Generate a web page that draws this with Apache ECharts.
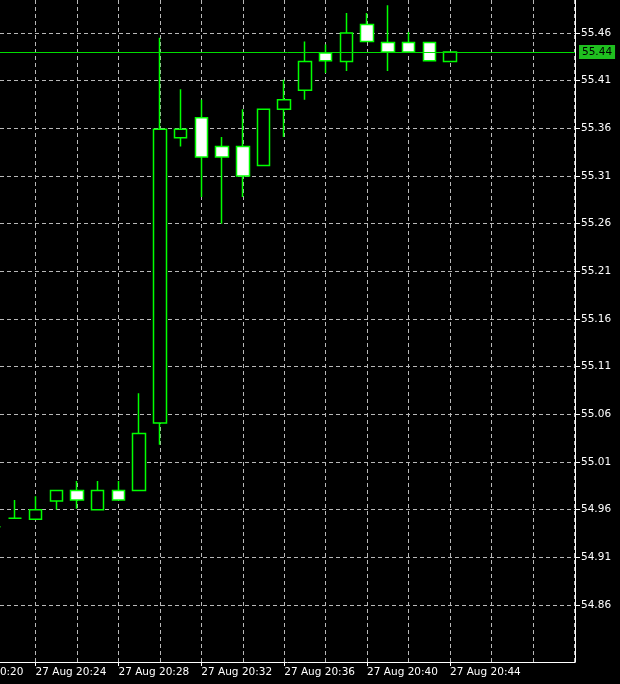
<!DOCTYPE html>
<html>
<head>
<meta charset="utf-8">
<script src="https://cdn.jsdelivr.net/npm/echarts@6/dist/echarts.min.js"></script>
<style>
html,body{margin:0;padding:0;background:#000;}
#c{width:620px;height:684px;}
</style>
</head>
<body>
<div id="c"></div>
<script>
// ---- data ----
const dateLabel = '27 Aug';
const times  = ['20:22','20:23','20:24','20:25','20:26','20:27','20:28','20:29','20:30','20:31','20:32','20:33','20:34','20:35','20:36','20:37','20:38','20:39','20:40','20:41','20:42','20:43','20:44'];
const opens  = [54.942,54.951,54.950,54.969,54.980,54.960,54.980,54.980,55.051,55.350,55.371,55.341,55.341,55.321,55.380,55.400,55.439,55.430,55.469,55.450,55.450,55.450,55.430];
const closes = [54.942,54.951,54.960,54.980,54.970,54.980,54.970,55.040,55.359,55.359,55.330,55.330,55.310,55.380,55.390,55.430,55.431,55.460,55.451,55.440,55.440,55.431,55.440];
const lows   = [54.940,54.951,54.950,54.960,54.961,54.960,54.970,54.980,55.028,55.341,55.288,55.260,55.288,55.321,55.351,55.390,55.418,55.420,55.451,55.420,55.440,55.431,55.430];
const highs  = [54.950,54.970,54.974,54.980,54.990,54.990,54.990,55.082,55.455,55.401,55.390,55.351,55.380,55.380,55.411,55.451,55.448,55.481,55.481,55.489,55.461,55.450,55.440];
const xLabelTimes = ['20:20','20:24','20:28','20:32','20:36','20:40','20:44'];
const xGridTimes  = ['20:24','20:26','20:28','20:30','20:32','20:34','20:36','20:38','20:40','20:42','20:44','20:46','20:48','20:50'];
const yTicks = [54.86,54.91,54.96,55.01,55.06,55.11,55.16,55.21,55.26,55.31,55.36,55.41,55.46];
const lastPrice = 55.44;
const viewStart = '20:22:17';
const viewEnd   = '20:50:02';
const priceMin = 54.8002;
const priceMax = 55.4946;

// ---- helpers ----
const toMin = t => { const p = t.split(':').map(Number); return p[0] * 60 + p[1] + (p[2] || 0) / 60; };
const fmtTime = m => { const h = Math.floor(m / 60); const mm = Math.round(m - h * 60); return dateLabel + ' ' + h + ':' + String(mm).padStart(2, '0'); };
const candles = times.map((t, i) => [toMin(t), opens[i], closes[i], lows[i], highs[i]]);

const GREEN = '#00ff00';
const FONT = { fontFamily: 'DejaVu Sans', fontSize: 10.5, color: '#ffffff' };
const GRID_LINE = { color: '#b8b8b8', type: [4, 3], width: 1 };
const xMin = toMin(viewStart), xMax = toMin(viewEnd);

const chart = echarts.init(document.getElementById('c'), null, { renderer: 'canvas' });
chart.setOption({
  backgroundColor: '#000000',
  animation: false,
  grid: { left: 0, right: 45, top: 0, bottom: 22, containLabel: false, outerBoundsMode: 'none' },
  xAxis: [
    {
      type: 'value', min: xMin, max: xMax, position: 'bottom',
      axisLine: { show: true, onZero: false, lineStyle: { color: '#ffffff', width: 1 } },
      axisTick: { show: false, customValues: xGridTimes.map(toMin) },
      axisLabel: { show: false },
      splitLine: { show: true, lineStyle: GRID_LINE }
    },
    {
      type: 'value', min: xMin, max: xMax, position: 'bottom',
      axisLine: { show: false, onZero: false },
      axisTick: { show: true, length: 4, customValues: xLabelTimes.map(toMin), lineStyle: { color: '#ffffff' } },
      axisLabel: Object.assign({ show: true, customValues: xLabelTimes.map(toMin), formatter: fmtTime, align: 'left', margin: 5 }, FONT),
      splitLine: { show: false }
    }
  ],
  yAxis: {
    type: 'value', position: 'right', min: priceMin, max: priceMax,
    axisLine: { show: true, onZero: false, lineStyle: { color: '#ffffff', width: 1 } },
    axisTick: { show: true, length: 5, customValues: yTicks, lineStyle: { color: '#ffffff' } },
    axisLabel: Object.assign({ customValues: yTicks, formatter: v => v.toFixed(2), margin: 6 }, FONT),
    splitLine: { show: true, lineStyle: GRID_LINE }
  },
  series: [{
    type: 'candlestick',
    xAxisIndex: 0, yAxisIndex: 0,
    data: candles,
    barWidth: 13,
    clip: false,
    itemStyle: { color: '#000000', color0: '#ffffff', borderColor: GREEN, borderColor0: GREEN, borderWidth: 1.5 },
    markLine: {
      silent: true,
      symbol: ['none', 'none'],
      lineStyle: { color: '#00dd00', width: 1, type: 'solid' },
      label: {
        show: true, position: 'end', distance: 4,
        formatter: () => lastPrice.toFixed(2),
        backgroundColor: '#1fbf1f', color: '#000000',
        fontFamily: 'DejaVu Sans', fontSize: 10.5, padding: [2, 3, 1, 3]
      },
      data: [{ yAxis: lastPrice }]
    }
  }]
});

// label for 20:20 whose tick lies left of the visible window (only its tail shows)
const lx = chart.convertToPixel({ xAxisIndex: 1 }, toMin(xLabelTimes[0]));
const ly = chart.convertToPixel({ yAxisIndex: 0 }, priceMin);
chart.setOption({
  graphic: [{
    type: 'text', silent: true,
    style: {
      text: fmtTime(toMin(xLabelTimes[0])), x: lx, y: ly + 5,
      fill: '#ffffff', font: '10.5px "DejaVu Sans"',
      align: 'left', verticalAlign: 'top', textAlign: 'left', textVerticalAlign: 'top'
    }
  }]
});
</script>
</body>
</html>
